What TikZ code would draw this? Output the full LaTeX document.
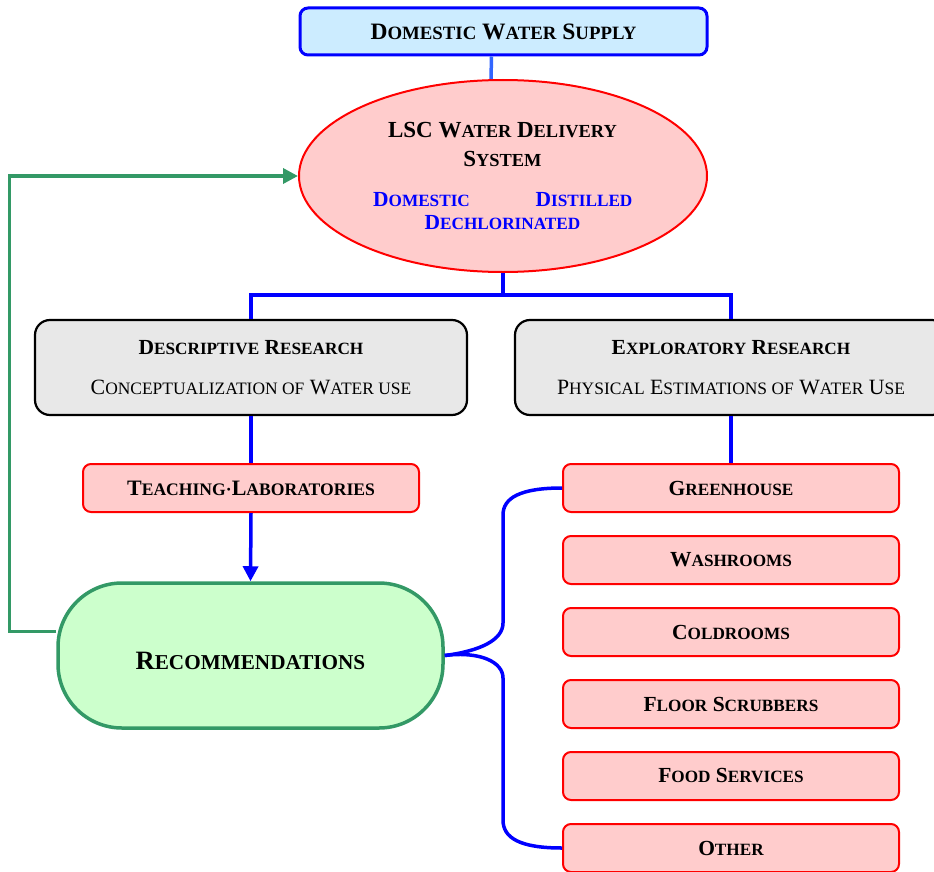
\documentclass[tikz,border=0pt]{standalone}
\usepackage{fontspec}
\setmainfont{Liberation Serif}
\usepackage{graphicx}
\usetikzlibrary{arrows.meta,shapes.geometric}
\definecolor{skyfill}{HTML}{CCECFF}
\definecolor{pinkfill}{HTML}{FFCCCC}
\definecolor{greyfill}{HTML}{E8E8E8}
\definecolor{mintfill}{HTML}{CCFFCC}
\definecolor{leafgreen}{HTML}{339966}
\definecolor{paleblue}{HTML}{3366FF}
\newcommand\lowcap[1]{\scalebox{0.8}{#1}}
\tikzset{
	supplybox/.style={draw=blue,line width=3pt,fill=skyfill,rounded corners=8pt,minimum width=407pt,minimum height=47pt,font=\fontsize{23.5}{28}\selectfont\bfseries},
	systemoval/.style={ellipse,draw=red,line width=2pt,fill=pinkfill,inner sep=0pt,minimum width=408pt,minimum height=192pt},
	researchbox/.style={draw=black,line width=2.2pt,fill=greyfill,rounded corners=15pt,minimum width=432pt,minimum height=95pt},
	usebox/.style={draw=red,line width=2pt,fill=pinkfill,rounded corners=8pt,minimum width=336pt,minimum height=48pt,font=\fontsize{21.5}{25}\selectfont\bfseries},
	outcome/.style={draw=leafgreen,line width=3.5pt,fill=mintfill,rounded corners=64pt,minimum width=385pt,minimum height=145pt,text height=27pt,text depth=0pt,font=\fontsize{26.5}{30}\selectfont\bfseries},
	caption/.style={anchor=base,inner sep=0pt},
	link/.style={blue,line width=3.5pt},
	feedback/.style={leafgreen,line width=3.5pt},
	tip/.style={-{Triangle[length=15pt,width=15pt]}}
}
\begin{document}
\begin{tikzpicture}[x=1pt,y=1pt]
\useasboundingbox (0,0) rectangle (934,-872);
\node[supplybox] (supply) at (503.5,-31.5) {D\lowcap{OMESTIC} W\lowcap{ATER} S\lowcap{UPPLY}};
\node[systemoval] (sys) at (503,-176) {};
\node[caption,font=\fontsize{23}{28}\selectfont\bfseries] (syshead) at (502.5,-138) {LSC W\lowcap{ATER} D\lowcap{ELIVERY}};
\node[caption,font=\fontsize{23}{28}\selectfont\bfseries] (systail) at (502.5,-166) {S\lowcap{YSTEM}};
\node[caption,blue,font=\fontsize{21.5}{25}\selectfont\bfseries] (domestic) at (421.5,-206) {D\lowcap{OMESTIC}};
\node[caption,blue,font=\fontsize{21.5}{25}\selectfont\bfseries] (distilled) at (584,-206) {D\lowcap{ISTILLED}};
\node[caption,blue,font=\fontsize{21.5}{25}\selectfont\bfseries] (dechlor) at (502.5,-229) {D\lowcap{ECHLORINATED}};
\node[researchbox] (desc) at (251,-367.5) {};
\node[researchbox] (expl) at (731,-367.5) {};
\node[caption,font=\fontsize{21.5}{25}\selectfont\bfseries] (desctitle) at (251,-354) {D\lowcap{ESCRIPTIVE} R\lowcap{ESEARCH}};
\node[caption,font=\fontsize{21.8}{25}\selectfont] (descsub) at (251,-394) {C\lowcap{ONCEPTUALIZATION OF} W\lowcap{ATER USE}};
\node[caption,font=\fontsize{21.5}{25}\selectfont\bfseries] (expltitle) at (731,-354) {E\lowcap{XPLORATORY} R\lowcap{ESEARCH}};
\node[caption,font=\fontsize{21.8}{25}\selectfont] (explsub) at (731,-394) {P\lowcap{HYSICAL} E\lowcap{STIMATIONS OF} W\lowcap{ATER} U\lowcap{SE}};
\node[usebox,font=\fontsize{22}{26}\selectfont\bfseries] (teach) at (251,-488) {T\lowcap{EACHING·}L\lowcap{ABORATORIES}};
\node[outcome] (rec) at (250.5,-655.5) {R\lowcap{ECOMMENDATIONS}};
\foreach \name/\txt [count=\i from 0] in {gh/G\lowcap{REENHOUSE},wash/W\lowcap{ASHROOMS},cold/C\lowcap{OLDROOMS},floor/F\lowcap{LOOR} S\lowcap{CRUBBERS},food/F\lowcap{OOD} S\lowcap{ERVICES},oth/O\lowcap{THER}}
	\node[usebox] (\name) at (731,{-488-72*\i}) {\txt};
\coordinate (fork) at (503,-295);
\draw[paleblue,line width=3.5pt] ([xshift=-12pt]supply.south) -- ([xshift=-12pt]sys.north);
\draw[link] (sys.south) -- (fork) -| (desc.north);
\draw[link] (fork) -| (expl.north);
\draw[link] (desc.south) -- (teach.north);
\draw[link,tip] (teach.south) -- (rec.north);
\draw[link] (expl.south) -- (gh.north);
\draw[feedback,tip] ([yshift=24pt]rec.west) -- ++(-47,0) |- (sys.west);
\draw[link] (rec.east) .. controls (480,-651) and (503,-640) .. (503,-623) -- (503,-515) .. controls (503,-498) and (520,-488) .. (gh.west);
\draw[link] (rec.east) .. controls (480,-651) and (503,-662) .. (503,-678) -- (503,-820) .. controls (503,-838) and (520,-848) .. (oth.west);
\end{tikzpicture}
\end{document}
